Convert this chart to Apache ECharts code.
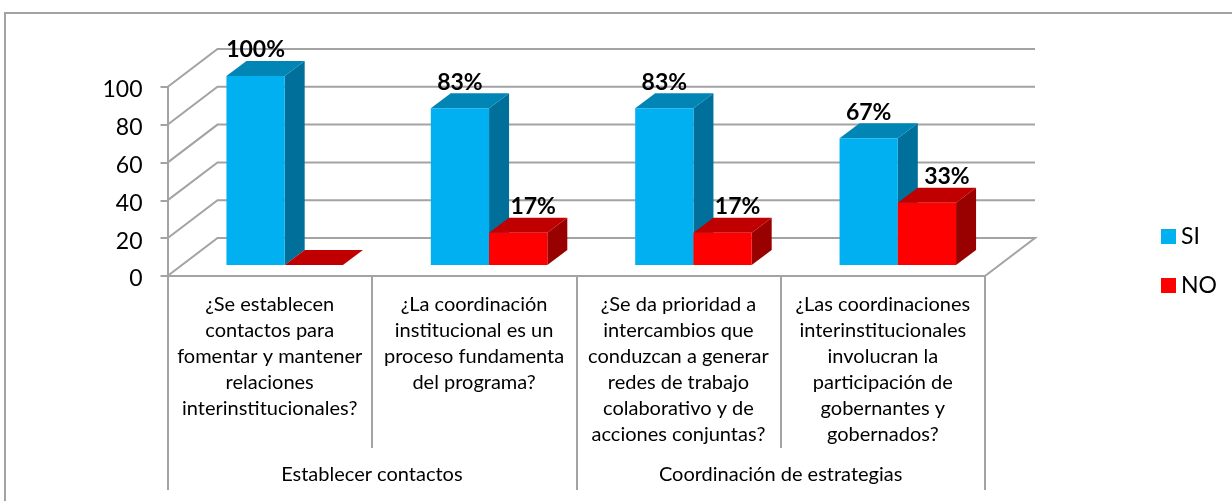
<!DOCTYPE html>
<html><head><meta charset="utf-8">
<style>html,body{margin:0;padding:0;background:#fff}#c{width:1232px;height:501px}</style>
<script src="https://cdn.jsdelivr.net/npm/echarts@6/dist/echarts.min.js"></script>
</head><body><div id="c"></div>
<script>
const questions = [
  "¿Se establecen\ncontactos para\nfomentar y mantener\nrelaciones\ninterinstitucionales?",
  "¿La coordinación\ninstitucional es un\nproceso fundamenta\ndel programa?",
  "¿Se da prioridad a\nintercambios que\nconduzcan a generar\nredes de trabajo\ncolaborativo y de\nacciones conjuntas?",
  "¿Las coordinaciones\ninterinstitucionales\ninvolucran la\nparticipación de\ngobernantes y\ngobernados?"
];
const groups = ["Establecer contactos", "Coordinación de estrategias"];
const siValues = [100, 83, 83, 67];
const noValues = [0, 17, 17, 33];
const gridTicks = [0, 20, 40, 60, 80, 100];

const FONT = 'Lato';
const GREY = '#a3a3a3';
const WALL = {x: 50, y: -38};
const BAR = {x: 15, y: -11, dx: 20, dy: -15, ratio: 0.285};
const noLabelShift = [0, 15, 15, 20];

function wallItem(params, api) {
  const v = api.value(0);
  const cs = params.coordSys;
  const y = api.coord([0, v])[1];
  const l = cs.x, r = cs.x + cs.width;
  const pts = [[l, y], [l + WALL.x, y + WALL.y], [r + WALL.x, y + WALL.y]];
  if (v === 0) pts.push([r, y]);
  return {type: 'polyline', shape: {points: pts},
    style: {stroke: GREY, lineWidth: 2, fill: null}, silent: true};
}
function box(colors, x0, x1, yTop, yBase, text, textX) {
  const d = BAR, kids = [];
  kids.push({type: 'polygon', shape: {points: [[x1, yTop], [x1 + d.dx, yTop + d.dy], [x1 + d.dx, yBase + d.dy], [x1, yBase]]}, style: {fill: colors[2]}});
  kids.push({type: 'polygon', shape: {points: [[x0, yTop], [x0 + d.dx, yTop + d.dy], [x1 + d.dx, yTop + d.dy], [x1, yTop]]}, style: {fill: colors[1]}});
  kids.push({type: 'rect', shape: {x: x0, y: yTop, width: x1 - x0, height: yBase - yTop}, style: {fill: colors[0]}});
  if (text) kids.push({type: 'text', z2: 50, style: {x: textX, y: yTop - 26, text,
    fontFamily: FONT, fontWeight: 'bold', fontSize: 23, fill: '#000', align: 'center', verticalAlign: 'middle'}});
  return {type: 'group', children: kids};
}
function barItem(colors, side) {
  return function (params, api) {
    const i = api.value(0), v = api.value(1);
    const p = api.coord([i, v]), p0 = api.coord([i, 0]);
    const w = api.size([1, 0])[0] * BAR.ratio;
    const cx = p[0] + BAR.x;
    const x0 = side === 0 ? cx - w : cx, x1 = side === 0 ? cx : cx + w;
    const shift = side === 0 ? 0 : noLabelShift[i];
    return box(colors, x0, x1, p[1] + BAR.y, p0[1] + BAR.y, v > 0 ? v + '%' : '', (x0 + x1) / 2 + shift);
  };
}
const chart = echarts.init(document.getElementById('c'), null, {renderer: 'canvas'});
chart.setOption({
  animation: false,
  backgroundColor: '#fff',
  textStyle: {fontFamily: FONT},
  grid: {left: 167.5, right: 247, top: 87, bottom: 225},
  legend: {data: ['SI', 'NO'], orient: 'vertical', left: 1161, top: 225, padding: 0, itemWidth: 15, itemHeight: 15, itemGap: 26,
    icon: 'rect', selectedMode: false, textStyle: {fontFamily: FONT, fontSize: 23, color: '#000'}},
  xAxis: [
    {type: 'category', data: questions, position: 'bottom',
      axisLine: {lineStyle: {color: GREY, width: 2}},
      axisTick: {show: true, length: 172, lineStyle: {color: GREY, width: 2}},
      axisLabel: {interval: 0, margin: 16, fontFamily: FONT, fontSize: 20, lineHeight: 26, color: '#000', align: 'center', verticalAlign: 'top'}},
    {type: 'category', data: groups, position: 'bottom',
      axisLine: {show: false},
      axisTick: {show: true, length: 214, lineStyle: {color: GREY, width: 2}},
      axisLabel: {interval: 0, margin: 199, fontFamily: FONT, fontSize: 20, color: '#000', verticalAlign: 'middle'}}
  ],
  yAxis: {type: 'value', min: 0, max: 100, interval: 20,
    axisLine: {show: true, lineStyle: {color: GREY, width: 2}},
    axisTick: {show: true, length: 7, lineStyle: {color: GREY, width: 2}},
    splitLine: {show: false},
    axisLabel: {margin: 25, formatter: '{a|{value}}', rich: {a: {fontFamily: FONT, fontSize: 23, color: '#000', padding: [6, 0, 0, 0]}}}},
  graphic: [{type: 'polyline', shape: {points: [[5, 501], [5, 13], [1232, 13]]}, style: {stroke: GREY, lineWidth: 2, fill: null}, silent: true}],
  series: [
    {type: 'custom', name: 'wall', data: gridTicks.map(v => [v]), encode: {y: 0}, renderItem: wallItem, silent: true, z: 1, clip: false},
    {type: 'custom', name: 'SI', itemStyle: {color: '#00B0F0'}, data: siValues.map((v, i) => [i, v]), encode: {x: 0, y: 1}, renderItem: barItem(['#00B0F0', '#0085B5', '#006F99'], 0), z: 2, clip: false},
    {type: 'custom', name: 'NO', itemStyle: {color: '#FF0000'}, data: noValues.map((v, i) => [i, v]), encode: {x: 0, y: 1}, renderItem: barItem(['#FF0000', '#C00000', '#990000'], 1), z: 3, clip: false}
  ]
});
</script></body></html>
